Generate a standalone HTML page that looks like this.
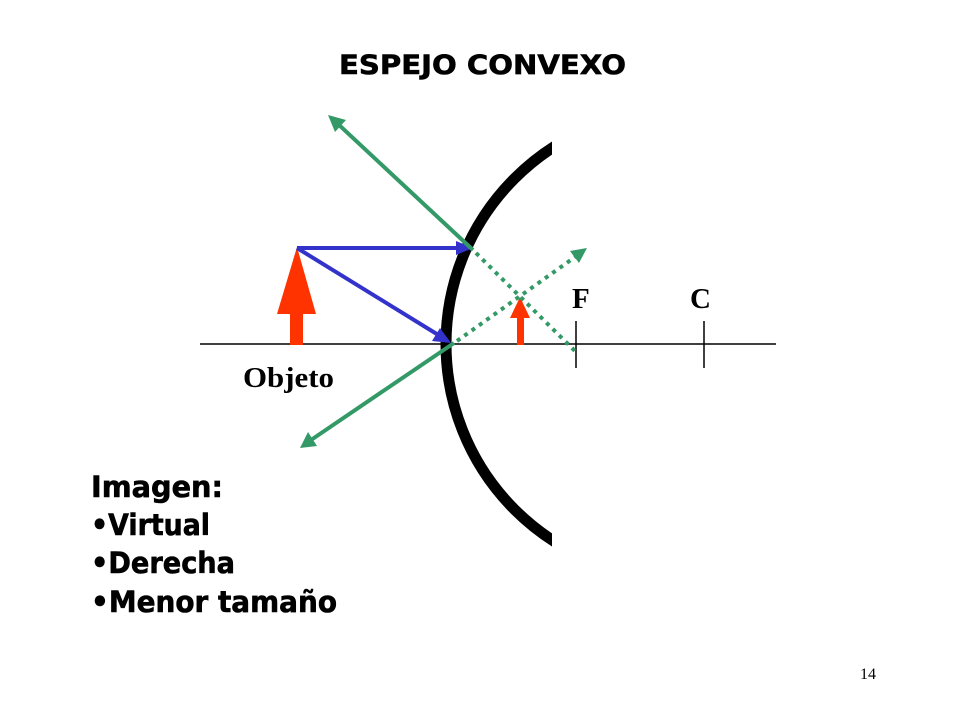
<!DOCTYPE html>
<html>
<head>
<meta charset="utf-8">
<style>
  html,body{margin:0;padding:0;background:#fff;}
  svg{display:block;}
</style>
</head>
<body>
<svg width="960" height="720" viewBox="0 0 960 720" xmlns="http://www.w3.org/2000/svg">
  <defs>
    <clipPath id="mc"><rect x="0" y="0" width="552" height="720"/></clipPath>
  </defs>
  <rect width="960" height="720" fill="#fff"/>

  <!-- Title -->
  <text x="339" y="74" font-family="Verdana, 'DejaVu Sans', 'Liberation Sans', sans-serif" font-weight="bold" font-size="27" textLength="287" lengthAdjust="spacingAndGlyphs" fill="#000" stroke="#000" stroke-width="0.6">ESPEJO CONVEXO</text>

  <!-- Axis -->
  <line x1="200" y1="344" x2="776" y2="344" stroke="#000" stroke-width="1.5"/>
  <line x1="576" y1="321" x2="576" y2="368" stroke="#000" stroke-width="1.5"/>
  <line x1="704" y1="321" x2="704" y2="368" stroke="#000" stroke-width="1.5"/>

  <!-- Mirror -->
  <g clip-path="url(#mc)">
    <path d="M 680 110 A 232 232 0 0 0 680 578" fill="none" stroke="#000" stroke-width="11"/>
  </g>

  <!-- Labels F, C, Objeto -->
  <text x="572" y="308" font-family="'Liberation Serif', serif" font-weight="bold" font-size="29" fill="#000">F</text>
  <text x="690" y="308" font-family="'Liberation Serif', serif" font-weight="bold" font-size="29" fill="#000">C</text>
  <text x="243" y="387" font-family="'Liberation Serif', serif" font-weight="bold" font-size="29" textLength="91" lengthAdjust="spacingAndGlyphs" fill="#000">Objeto</text>

  <!-- Object arrow -->
  <polygon points="297,247 316,314 303,314 303,345 290,345 290,314 277,314" fill="#FF3300"/>
  <!-- Image arrow -->
  <polygon points="520,297 530,318 524,318 524,345 517,345 517,318 510,318" fill="#FF3300"/>

  <!-- Blue incident rays -->
  <line x1="297" y1="248" x2="460" y2="248" stroke="#3333CC" stroke-width="4"/>
  <polygon points="473,248 456,241 456,255" fill="#3333CC"/>
  <line x1="297" y1="248" x2="440" y2="336" stroke="#3333CC" stroke-width="4"/>
  <polygon points="451,343 432,341 440,328" fill="#3333CC"/>

  <!-- Green reflected ray 1 -->
  <line x1="473" y1="250" x2="338" y2="124" stroke="#339966" stroke-width="4"/>
  <polygon points="328,115 346,120 335,132" fill="#339966"/>
  <line x1="476" y1="253" x2="576" y2="352" stroke="#339966" stroke-width="4" stroke-dasharray="4 5"/>

  <!-- Green reflected ray 2 -->
  <line x1="454" y1="343" x2="311" y2="440" stroke="#339966" stroke-width="4"/>
  <polygon points="300,448 308,432 317,446" fill="#339966"/>
  <line x1="457" y1="341" x2="575" y2="257" stroke="#339966" stroke-width="4" stroke-dasharray="4 5"/>
  <polygon points="587,248 579,263 570,251" fill="#339966"/>

  <!-- Image description -->
  <g font-family="Verdana, 'DejaVu Sans', 'Liberation Sans', sans-serif" font-weight="bold" font-size="29" fill="#000" stroke="#000" stroke-width="0.6">
    <text x="91" y="497" textLength="132" lengthAdjust="spacingAndGlyphs">Imagen:</text>
    <text x="91" y="535" textLength="119" lengthAdjust="spacingAndGlyphs">•Virtual</text>
    <text x="91" y="573" textLength="144" lengthAdjust="spacingAndGlyphs">•Derecha</text>
    <text x="91" y="612" textLength="246" lengthAdjust="spacingAndGlyphs">•Menor tamaño</text>
  </g>

  <!-- Page number -->
  <text x="860" y="679" font-family="'Liberation Serif', serif" font-size="16" fill="#000">14</text>
</svg>
</body>
</html>
